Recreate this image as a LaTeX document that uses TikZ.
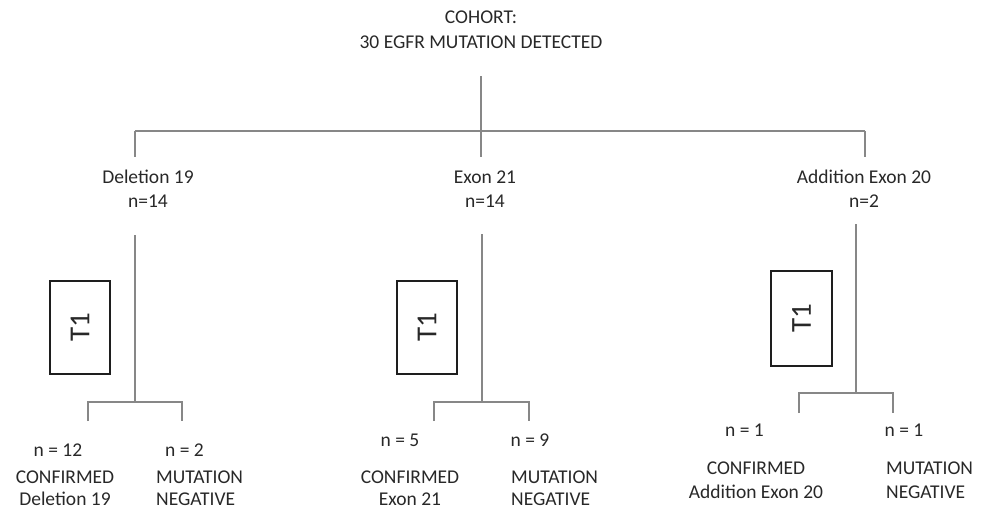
\documentclass[tikz,border=0pt]{standalone}
\usepackage{fontspec}
\setmainfont{Carlito}
\definecolor{txt}{RGB}{40,40,40}
\definecolor{ln}{RGB}{135,135,135}
\definecolor{bx}{RGB}{30,30,30}
\begin{document}
\begin{tikzpicture}[x=1pt,y=-1pt,
  lbl/.style={font=\fontsize{19.5}{24.5}\selectfont, text=txt, inner sep=0pt, align=center},
  lbltight/.style={font=\fontsize{19.5}{22}\selectfont, text=txt, inner sep=0pt, align=center},
  conn/.style={draw=ln, line width=1.3pt},
  tbox/.style={draw=bx, line width=1.1pt, inner sep=0pt, rotate=90, text=txt,
    font=\fontsize{29}{30}\selectfont},
]
\useasboundingbox (0,0) rectangle (986,509);

% top
\node[lbl] (cohort) at (481,29.5) {COHORT:\\30 EGFR MUTATION DETECTED};
\node[lbl, font=\fontsize{19.5}{24}\selectfont] (del) at (148,189) {Deletion 19\\n=14};
\node[lbl, font=\fontsize{19.5}{24}\selectfont] (exon) at (485,189) {Exon 21\\n=14};
\node[lbl, font=\fontsize{19.5}{24}\selectfont] (add) at (864,189) {Addition Exon 20\\n=2};

\coordinate (top) at (481,76);
\coordinate (hl) at (135,131);
\coordinate (hr) at (865,131);
\coordinate (dl) at (135,157);
\coordinate (dm) at (481,157);
\coordinate (dr) at (865,157);
\draw[conn] (top) -- (dm);
\draw[conn] (hl) -- (hr);
\draw[conn] (hl) -- (dl);
\draw[conn] (hr) -- (dr);

% left branch
\coordinate (la) at (135,235);
\coordinate (lb) at (135,402);
\coordinate (lL) at (88,402);
\coordinate (lR) at (182,402);
\coordinate (lLd) at (88,421);
\coordinate (lRd) at (182,421);
\draw[conn] (la) -- (lb);
\draw[conn] (lLd) -- (lL) -- (lR) -- (lRd);
\node[tbox, minimum width=93pt, minimum height=60pt] (t1a) at (80,327.5) {T1};
\node[lbl] (n12) at (58,450) {n = 12};
\node[lbltight] (conf1) at (65,488) {CONFIRMED\\Deletion 19};
\node[lbl] (n2) at (184.5,450) {n = 2};
\node[lbltight, align=left, anchor=west] (neg1) at (156,488) {MUTATION\\NEGATIVE};

% middle branch
\coordinate (ma) at (482,234);
\coordinate (mb) at (482,402);
\coordinate (mL) at (434,402);
\coordinate (mR) at (529,402);
\coordinate (mLd) at (434,421);
\coordinate (mRd) at (529,421);
\draw[conn] (ma) -- (mb);
\draw[conn] (mLd) -- (mL) -- (mR) -- (mRd);
\node[tbox, minimum width=93pt, minimum height=60pt] (t1b) at (427,327.5) {T1};
\node[lbl] (n5) at (400,440) {n = 5};
\node[lbltight] (conf2) at (410,488) {CONFIRMED\\Exon 21};
\node[lbl] (n9) at (530,440) {n = 9};
\node[lbltight, align=left, anchor=west] (neg2) at (511,488) {MUTATION\\NEGATIVE};

% right branch
\coordinate (ra) at (856,224);
\coordinate (rb) at (856,393);
\coordinate (rL) at (799,393);
\coordinate (rR) at (893,393);
\coordinate (rLd) at (799,413);
\coordinate (rRd) at (893,413);
\draw[conn] (ra) -- (rb);
\draw[conn] (rLd) -- (rL) -- (rR) -- (rRd);
\node[tbox, minimum width=95pt, minimum height=61pt] (t1c) at (801.5,318.5) {T1};
\node[lbl] (n1a) at (744.5,430) {n = 1};
\node[lbl, font=\fontsize{19.5}{24}\selectfont] (conf3) at (756,480) {CONFIRMED\\Addition Exon 20};
\node[lbl] (n1b) at (904,430) {n = 1};
\node[lbl, font=\fontsize{19.5}{24}\selectfont, align=left, anchor=west] (neg3) at (886,480) {MUTATION\\NEGATIVE};
\end{tikzpicture}
\end{document}
